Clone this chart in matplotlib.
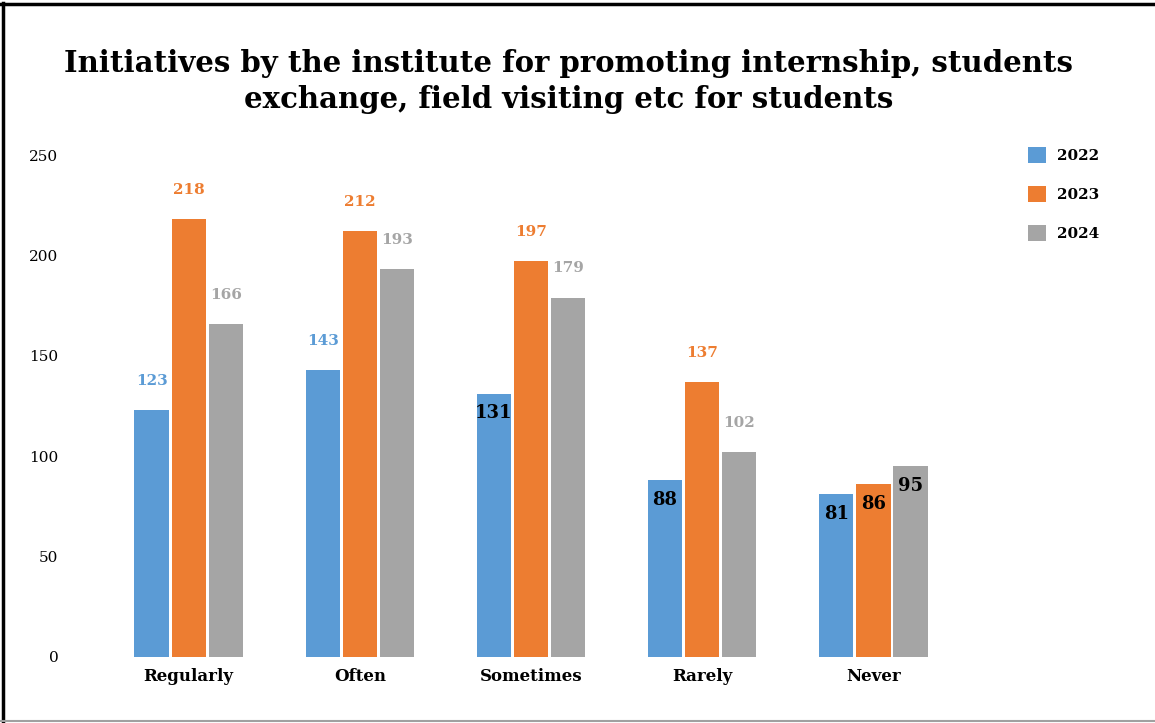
import matplotlib
matplotlib.use('Agg')
import matplotlib.pyplot as plt
import numpy as np

# data
categories = ['Regularly', 'Often', 'Sometimes', 'Rarely', 'Never']
years = ['2022', '2023', '2024']
vals_2022 = [123, 143, 131, 88, 81]
vals_2023 = [218, 212, 197, 137, 86]
vals_2024 = [166, 193, 179, 102, 95]
# which labels sit inside the bar top (drawn black) instead of above it
inside_2022 = [False, False, True, True, True]
inside_2023 = [False, False, False, False, True]
inside_2024 = [False, False, False, False, True]
y_ticks = [0, 50, 100, 150, 200, 250]

COLORS = ['#5B9BD5', '#ED7D31', '#A5A5A5']
FONT = 'DejaVu Serif'

plt.rcParams['font.family'] = FONT

fig = plt.figure(figsize=(11.55, 7.23), dpi=100)
ax = fig.add_axes([0.0745, 0.0913, 0.7706, 0.6943])

x = np.arange(len(categories))
step = 0.217
width = 0.2
series = [vals_2022, vals_2023, vals_2024]
inside = [inside_2022, inside_2023, inside_2024]

for i, (vals, ins, c) in enumerate(zip(series, inside, COLORS)):
    xs = x + (i - 1) * step
    ax.bar(xs, vals, width=width, color=c, edgecolor='none',
           label=years[i], zorder=2)
    for xx, v, inn in zip(xs, vals, ins):
        if inn:
            ax.annotate(str(v), (xx, v), xytext=(0, -14),
                        textcoords='offset points', ha='center', va='center',
                        fontsize=13, fontweight='heavy', color='black')
        else:
            ax.annotate(str(v), (xx, v), xytext=(0, 21),
                        textcoords='offset points', ha='center', va='center',
                        fontsize=11, fontweight='bold', color=c)

ax.set_xlim(-0.6, 4.6)
ax.set_ylim(0, 250)
ax.set_yticks(y_ticks)
ax.set_yticklabels([str(t) for t in y_ticks], fontsize=11)
ax.set_xticks(x)
ax.set_xticklabels(categories, fontsize=12, fontweight='bold')
ax.tick_params(axis='both', length=0)
ax.tick_params(axis='y', pad=20)
ax.tick_params(axis='x', pad=8)
for sp in ax.spines.values():
    sp.set_visible(False)

fig.text(0.492, 0.887,
         'Initiatives by the institute for promoting internship, students\n'
         'exchange, field visiting etc for students',
         ha='center', va='center', fontsize=21, fontweight='heavy',
         linespacing=1.3)

leg = fig.legend(loc='upper left', bbox_to_anchor=(0.878, 0.8155),
                 frameon=False, prop={'family': FONT, 'weight': 'bold',
                                      'size': 11},
                 handlelength=1.2, handleheight=1.2, labelspacing=1.51,
                 handletextpad=0.7)

# outer frame: black top and left, grey bottom
fig.add_artist(plt.Line2D([0.003, 0.003], [0.0, 0.996], color='black',
                          lw=2.5, transform=fig.transFigure))
fig.add_artist(plt.Line2D([0.0, 1.0], [0.994, 0.994], color='black',
                          lw=2.5, transform=fig.transFigure))
fig.add_artist(plt.Line2D([0.0, 1.0], [0.003, 0.003], color='#A0A0A0',
                          lw=1.5, transform=fig.transFigure))

fig.savefig('out.png', dpi=100, facecolor='white')
